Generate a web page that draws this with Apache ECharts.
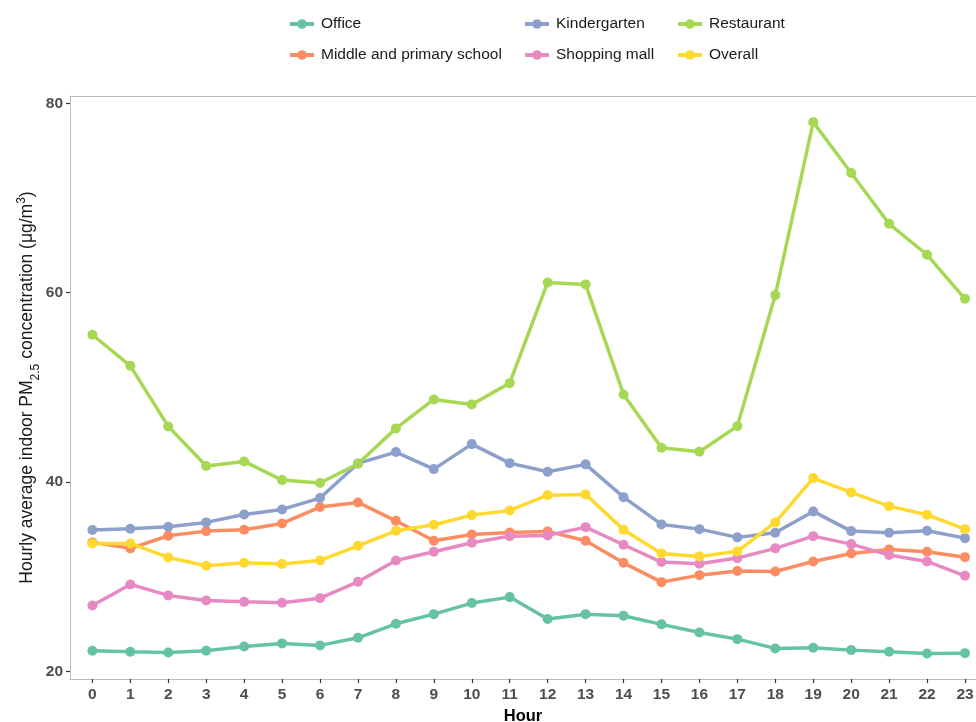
<!DOCTYPE html>
<html>
<head>
<meta charset="utf-8">
<script src="https://cdn.jsdelivr.net/npm/echarts@6/dist/echarts.min.js"></script>
<style>
  html, body { margin: 0; padding: 0; background: #ffffff; }
  #chart { width: 976px; height: 722px; }
</style>
</head>
<body>
<div id="chart"></div>
<script>
// Hour of day
const hours = [0,1,2,3,4,5,6,7,8,9,10,11,12,13,14,15,16,17,18,19,20,21,22,23];

// Hourly average indoor PM2.5 (μg/m3) per building type
const office = [22.18,22.07,22.00,22.18,22.64,22.96,22.75,23.55,25.03,26.05,27.22,27.85,25.53,26.05,25.88,24.97,24.12,23.41,22.43,22.50,22.25,22.07,21.90,21.93];
const school = [33.63,33.00,34.33,34.82,34.96,35.63,37.36,37.85,35.91,33.80,34.47,34.68,34.79,33.80,31.47,29.43,30.17,30.60,30.56,31.62,32.46,32.89,32.64,32.07];
const kindergarten = [34.93,35.07,35.28,35.74,36.58,37.11,38.31,41.97,43.17,41.37,44.01,42.00,41.09,41.87,38.41,35.53,35.03,34.16,34.64,36.90,34.82,34.64,34.85,34.08];
const mall = [26.97,29.19,28.03,27.50,27.35,27.25,27.74,29.47,31.72,32.64,33.59,34.29,34.37,35.24,33.38,31.55,31.37,31.97,33.00,34.29,33.45,32.29,31.62,30.10];
const restaurant = [55.56,52.28,45.88,41.69,42.18,40.21,39.90,41.93,45.67,48.73,48.20,50.45,61.09,60.88,49.26,43.62,43.20,45.91,59.75,78.02,72.64,67.28,64.01,59.36];
const overall = [33.52,33.52,32.04,31.16,31.47,31.34,31.72,33.27,34.85,35.49,36.51,37.00,38.62,38.70,34.96,32.46,32.15,32.68,35.74,40.42,38.91,37.46,36.55,35.03];

const seriesNames = ['Office','Middle and primary school','Kindergarten','Shopping mall','Restaurant','Overall'];
const seriesValues = [office, school, kindergarten, mall, restaurant, overall];
const seriesColors = ['#66C2A5','#FC8D62','#8DA0CB','#E78AC3','#A6D854','#FFD92F'];

const yTicks = [20, 40, 60, 80];

const FONT = '"Liberation Sans", Arial, sans-serif';
const PANEL_BORDER = '#bdbdbd';

// x range: half-step padding either side of the hours; the panel runs past the right edge
const X_MIN = -0.59;
const X_MAX = 23.29;

const chart = echarts.init(document.getElementById('chart'), null, { renderer: 'canvas' });

function legendBlock(names, left) {
  return {
    data: names,
    orient: 'vertical',
    left: left,
    top: 11,
    itemWidth: 24,
    itemHeight: 12,
    itemGap: 15,
    lineStyle: { width: 4 },
    textStyle: { fontFamily: FONT, fontSize: 15.5, color: '#1a1a1a', padding: [0, 0, 0, 2] }
  };
}

const option = {
  backgroundColor: '#ffffff',
  animation: false,
  legend: [
    legendBlock(['Office', 'Middle and primary school'], 283),
    legendBlock(['Kindergarten', 'Shopping mall'], 518),
    legendBlock(['Restaurant', 'Overall'], 671)
  ],
  grid: {
    left: 70,
    top: 96,
    right: 0,
    height: 583,
    show: false,
    containLabel: false,
    outerBoundsMode: 'none'
  },
  xAxis: [{
    type: 'value',
    min: X_MIN,
    max: X_MAX,
    name: 'Hour',
    nameLocation: 'middle',
    nameGap: 27,
    nameTextStyle: { fontFamily: FONT, fontSize: 16.5, fontWeight: 'bold', color: '#000000' },
    axisLine: { show: true, onZero: false, lineStyle: { color: PANEL_BORDER, width: 1 } },
    splitLine: { show: false },
    axisTick: { show: true, length: 4, lineStyle: { color: '#333333', width: 1.2 }, customValues: hours },
    axisLabel: {
      customValues: hours,
      margin: 8,
      fontFamily: FONT,
      fontSize: 15.5,
      fontWeight: 'bold',
      color: '#4d4d4d',
      formatter: v => String(v)
    }
  }, {
    // top edge of the panel frame
    type: 'value',
    position: 'top',
    min: X_MIN,
    max: X_MAX,
    axisLine: { show: true, onZero: false, lineStyle: { color: PANEL_BORDER, width: 1 } },
    axisTick: { show: false },
    axisLabel: { show: false },
    splitLine: { show: false }
  }],
  yAxis: {
    type: 'value',
    min: 19.2,
    max: 80.78,
    name: '{a|Hourly average indoor PM}{sub|2.5}{a| concentration (μg/m}{sup|3}{a|)}',
    nameLocation: 'middle',
    nameRotate: 90,
    nameGap: 32,
    nameMoveOverlap: false,
    nameTextStyle: {
      fontFamily: FONT,
      color: '#1a1a1a',
      rich: {
        a: { fontFamily: FONT, fontSize: 17.5, color: '#1a1a1a', lineHeight: 22, verticalAlign: 'middle' },
        sub: { fontFamily: FONT, fontSize: 12, color: '#1a1a1a', lineHeight: 22, verticalAlign: 'bottom', padding: [0, 0, -4, 0] },
        sup: { fontFamily: FONT, fontSize: 12, color: '#1a1a1a', lineHeight: 22, verticalAlign: 'top' }
      }
    },
    axisLine: { show: true, onZero: false, lineStyle: { color: PANEL_BORDER, width: 1 } },
    splitLine: { show: false },
    axisTick: { show: true, length: 4, lineStyle: { color: '#333333', width: 1.2 }, customValues: yTicks },
    axisLabel: {
      customValues: yTicks,
      margin: 7,
      fontFamily: FONT,
      fontSize: 15.5,
      fontWeight: 'bold',
      color: '#4d4d4d'
    }
  },
  series: seriesNames.map((name, i) => ({
    name: name,
    type: 'line',
    xAxisIndex: 0,
    data: hours.map((h, j) => [h, seriesValues[i][j]]),
    symbol: 'circle',
    symbolSize: 10,
    showSymbol: true,
    color: seriesColors[i],
    itemStyle: { color: seriesColors[i] },
    lineStyle: { color: seriesColors[i], width: 3.5 },
    emphasis: { disabled: true }
  }))
};

chart.setOption(option);
</script>
</body>
</html>
